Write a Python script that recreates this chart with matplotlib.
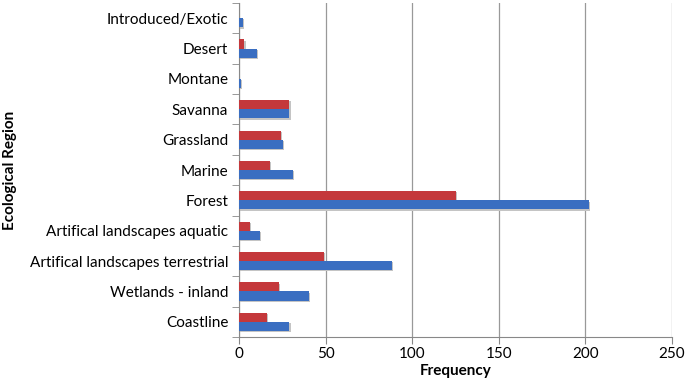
import matplotlib
matplotlib.use("Agg")
import matplotlib.pyplot as plt
import numpy as np

categories = ["Coastline", "Wetlands - inland", "Artifical landscapes terrestrial",
              "Artifical landscapes aquatic", "Forest", "Marine", "Grassland",
              "Savanna", "Montane", "Desert", "Introduced/Exotic"]
red_values = [16, 23, 49, 6, 125, 18, 24, 29, 0, 3, 0]
blue_values = [29, 40, 88, 12, 202, 31, 25, 29, 1, 10, 2]
x_ticks = [0, 50, 100, 150, 200, 250]

plt.rcParams['font.family'] = ['Lato', 'DejaVu Sans']

fig = plt.figure(figsize=(6.85, 3.79), dpi=100)
ax = fig.add_axes([239.3/685, 1 - 337/379, (672-239.3)/685, (337-3)/379])

y = np.arange(len(categories))
h = 0.3
red_c = "#C4383B"
blue_c = "#3A6EC1"
# subtle shadows
ax.barh(y + h/2 - 0.04, red_values, height=h, left=0.6, color="#c4c4c4", zorder=2, linewidth=0)
ax.barh(y - h/2 - 0.04, blue_values, height=h, left=0.6, color="#c4c4c4", zorder=2, linewidth=0)
ax.barh(y + h/2, red_values, height=h, color=red_c, zorder=3, linewidth=0)
ax.barh(y - h/2, blue_values, height=h, color=blue_c, zorder=3, linewidth=0)

ax.set_xlim(0, 250)
ax.set_ylim(-0.5, len(categories) - 0.5)
ax.set_xticks(x_ticks)
ax.set_xticklabels([str(t) for t in x_ticks], fontsize=11)
ax.set_yticks(y)
ax.set_yticklabels(categories, fontsize=11)
ax.set_yticks(np.arange(-0.5, len(categories), 1), minor=True)
ax.tick_params(axis='y', which='major', length=0, pad=8)
ax.tick_params(axis='y', which='minor', length=5, color='#888888')
ax.tick_params(axis='x', which='major', length=5, color='#888888', pad=2)

ax.grid(axis='x', color='#999999', linewidth=0.9, zorder=0)
ax.set_axisbelow(True)
for s in ['top', 'right']:
    ax.spines[s].set_visible(False)
for s in ['left', 'bottom']:
    ax.spines[s].set_color('#888888')

ax.set_xlabel("Frequency", fontsize=11, fontweight='bold', labelpad=2)
fig.text(10/685, 1 - 170/379, "Ecological Region", rotation=90, fontsize=11,
         fontweight='bold', ha='center', va='center')

fig.savefig("out.png", dpi=100)
